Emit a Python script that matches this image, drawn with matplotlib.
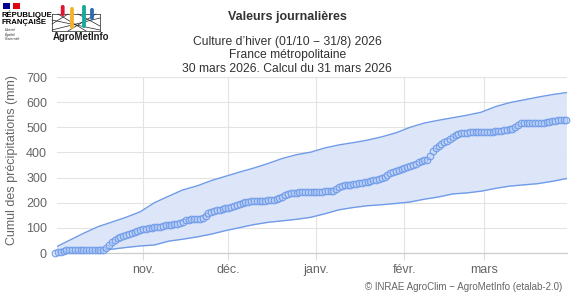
import matplotlib
matplotlib.use("Agg")
import matplotlib.pyplot as plt
import matplotlib.dates as mdates
from matplotlib.patches import Rectangle, FancyBboxPatch
import pandas as pd

# ---------------- data ----------------
obs_start = "2025-10-01"
obs_values = [
    0, 2, 5, 8, 10,
    11, 11, 11, 11, 11,
    11, 11, 11, 11, 11,
    12, 12, 12, 20, 32,
    45, 52, 58, 62, 66,
    70, 74, 78, 82, 86,
    90, 94, 97, 100, 101,
    102, 104, 105, 108, 111,
    112, 113, 114, 115, 118,
    124, 130, 132, 134, 135,
    136, 137, 139, 148, 158,
    165, 168, 170, 173, 175,
    177, 180, 184, 188, 191,
    194, 198, 201, 204, 206,
    207, 207, 208, 208, 208,
    209, 210, 212, 214, 218,
    224, 230, 234, 237, 239,
    240, 242, 243, 244, 244,
    244, 244, 244, 244, 244,
    245, 245, 245, 246, 255,
    263, 268, 270, 271, 272,
    274, 276, 278, 280, 282,
    284, 286, 289, 292, 296,
    300, 304, 312, 318, 322,
    326, 332, 336, 340, 343,
    346, 350, 355, 360, 364,
    368, 371, 385, 405, 416,
    425, 434, 440, 446, 455,
    463, 470, 475, 478, 479,
    479, 480, 480, 480, 480,
    480, 480, 481, 482, 483,
    484, 486, 487, 488, 490,
    492, 494, 500, 510, 516,
    517, 517, 517, 517, 518,
    518, 518, 519, 520, 521,
    524, 526, 527, 527, 528,
    530,
]

env_step = "5D"
upper_values = [22, 50, 78, 104, 123, 142, 164, 200, 226, 251, 267, 288, 305,
                322, 338, 356, 376, 391, 401, 418, 430, 439, 449, 462, 478,
                500, 517, 528, 538, 548, 560, 582, 598, 609, 620, 630, 638]
lower_values = [0, 3, 6, 10, 15, 22, 28, 32, 47, 55, 64, 75, 89, 101, 113,
                122, 128, 134, 142, 156, 172, 181, 188, 192, 197, 203, 214,
                223, 235, 239, 246, 257, 266, 271, 276, 285, 296]

month_ticks = ["2025-11-01", "2025-12-01", "2026-01-01", "2026-02-01", "2026-03-01"]
month_labels = ["nov.", "déc.", "janv.", "févr.", "mars"]
y_ticks = [0, 100, 200, 300, 400, 500, 600, 700]

obs_dates = pd.date_range(obs_start, periods=len(obs_values), freq="D")
env_dates = pd.date_range(obs_start, periods=len(upper_values), freq=env_step)

# ---------------- styling ----------------
plt.rcParams["font.family"] = ["Liberation Sans", "DejaVu Sans"]
LINE = "#6f9be9"
FILL = "#dde6f8"
TXT = "#333333"
TICK = "#666666"
GRID = "#e3e3e3"

W, H = 572, 300
fig = plt.figure(figsize=(W / 100, H / 100), dpi=100)
fig.patch.set_facecolor("white")

left_px, right_px, top_px, bottom_px = 56.7, 567, 77, 253
ax = fig.add_axes([left_px / W, 1 - bottom_px / H,
                   (right_px - left_px) / W, (bottom_px - top_px) / H])

ax.fill_between(env_dates, lower_values, upper_values, color=FILL, lw=0, zorder=1)
ax.plot(env_dates, upper_values, color=LINE, lw=1.0, zorder=2)
ax.plot(env_dates, lower_values, color=LINE, lw=1.0, zorder=2)
ax.plot(obs_dates, obs_values, ls="none", marker="o", ms=4.8, mew=0.75,
        mec=LINE, mfc=(0.72, 0.81, 0.97, 0.45), zorder=3, clip_on=False)

x0 = pd.Timestamp(obs_start)
ax.set_xlim(mdates.date2num(x0) + 0.6, mdates.date2num(obs_dates[-1]) + 0.2)
ax.set_ylim(0, 700)
ax.set_xticks([mdates.date2num(pd.Timestamp(t)) for t in month_ticks])
ax.set_xticklabels(month_labels)
ax.set_yticks(y_ticks)
ax.set_yticklabels([str(v) for v in y_ticks])

ax.grid(True, color=GRID, lw=0.8, zorder=0)
ax.set_axisbelow(True)
for s in ["top", "right", "left"]:
    ax.spines[s].set_visible(False)
ax.spines["bottom"].set_color("#cccccc")
ax.spines["bottom"].set_linewidth(0.9)
ax.tick_params(axis="x", length=5, width=0.8, color="#dddddd",
               labelsize=9, labelcolor=TICK, pad=3)
ax.tick_params(axis="y", length=0, labelsize=9, labelcolor=TICK, pad=7)
ax.set_ylabel("Cumul des précipitations (mm)", fontsize=9, color=TICK)
ax.yaxis.set_label_coords((18 - left_px) / (right_px - left_px),
                          (bottom_px - 160) / (bottom_px - top_px))

# ---------------- titles ----------------
fig.text(0.502, 1 - 16.7 / H, "Valeurs journalières", ha="center", va="center",
         fontsize=9, fontweight="bold", color=TXT)
for yy, s in [(41.7, "Culture d’hiver (01/10 − 31/8) 2026"),
              (55.3, "France métropolitaine"),
              (69.5, "30 mars 2026. Calcul du 31 mars 2026")]:
    fig.text(0.502, 1 - yy / H, s, ha="center", va="center", fontsize=8.7, color=TXT)

fig.text(562 / W, 1 - 287 / H, "© INRAE AgroClim − AgroMetInfo (etalab-2.0)",
         ha="right", va="center", fontsize=7, color=TICK)

# ---------------- logos ----------------
lg = fig.add_axes([0, 1 - 46 / H, 115 / W, 46 / H])
lg.set_xlim(0, 115)
lg.set_ylim(46, 0)
lg.axis("off")
lg.add_patch(Rectangle((3, 3), 6.5, 6, color="#000091", lw=0))
lg.add_patch(Rectangle((9.5, 3), 3, 6, color="#ffffff", lw=0))
lg.add_patch(Rectangle((12.5, 3), 7.5, 6, color="#e1000f", lw=0))
lg.text(2, 15, "RÉPUBLIQUE", fontsize=5.6, fontweight="bold", va="center", color="#000000")
lg.text(2, 22, "FRANÇAISE", fontsize=5.6, fontweight="bold", va="center", color="#000000")
for yy, s in [(30, "Liberté"), (34.5, "Égalité"), (39, "Fraternité")]:
    lg.text(5, yy, s, fontsize=2.6, style="italic", va="center", color="#333333")

# AgroMetInfo mark: net + four bars
net_color = "#222222"
for (xa, ya, xb, yb) in [(52, 20, 100, 30), (52, 30, 100, 18), (52, 24, 68, 14),
                         (68, 31, 96, 14), (58, 14, 86, 31), (78, 14, 100, 26),
                         (52, 14, 100, 14), (52, 31, 100, 31), (52, 14, 52, 31),
                         (100, 14, 100, 31)]:
    lg.plot([xa, xb], [ya, yb], color=net_color, lw=0.5)
for xc, ytop, ybot, col in [(62.7, 5, 16, "#e3142b"), (72, 7, 29, "#f4b12a"),
                            (84, 5, 28, "#14a99d"), (92, 8, 20, "#2d6bb0")]:
    lg.add_patch(FancyBboxPatch((xc - 1.9, ytop), 3.8, ybot - ytop,
                                boxstyle="round,pad=0,rounding_size=1.8",
                                color=col, lw=0, zorder=3))
lg.text(52.5, 37, "AgroMetInfo", fontsize=6.9, fontweight="bold", va="center",
        color="#1e1e1e")

fig.savefig("out.png", dpi=100)
